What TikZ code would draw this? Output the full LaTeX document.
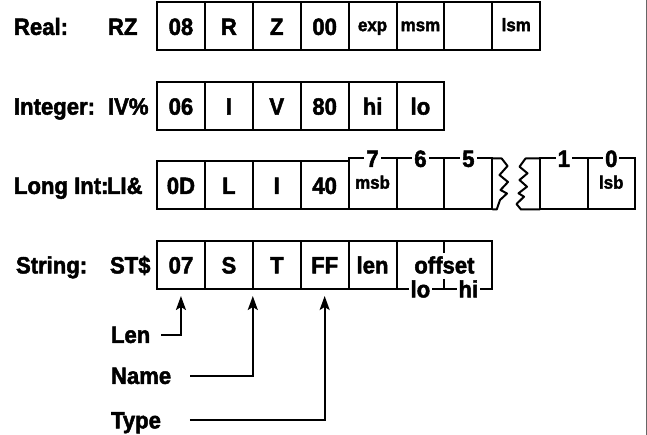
\documentclass[tikz,border=0pt]{standalone}
\usepackage{fontspec}
\setmainfont{Liberation Sans}[BoldFeatures={FakeBold=2,FakeStretch=0.94}]
\usetikzlibrary{arrows.meta}
\newcommand\bigf{\fontsize{23.5}{23.5}\selectfont\bfseries}
\newcommand\smf{\fontsize{18}{18}\selectfont\bfseries}
\begin{document}
\begin{tikzpicture}[x=1pt,y=-1pt,line width=2pt,
  box/.style={draw, inner sep=0pt, outer sep=0pt, minimum width=47.9pt, minimum height=48pt, font=\bigf, text height=16.8pt, text depth=0pt},
  sbox/.style={box, font=\smf, text height=9.3pt},
  lbl/.style={inner sep=0pt, anchor=west, font=\bigf, text height=16.8pt, text depth=0pt},
  tag/.style={fill=white, inner xsep=2pt, inner ysep=0pt, font=\bigf, text height=16.8pt, text depth=0pt},
  arr/.style={-{Stealth[length=14pt,width=10pt,inset=3pt]}, line width=2pt}]
\useasboundingbox (0,0) rectangle (647,435);
% Real
\node[lbl] (realL) at (13,26.5) {Real:};
\node[lbl] (realN) at (107,26.5) {RZ};
\node[box] (r1) at (180.95,26.5) {08};
\node[box] (r2) at (228.85,26.5) {R};
\node[box] (r3) at (276.75,26.5) {Z};
\node[box] (r4) at (324.65,26.5) {00};
\node[sbox] (r5) at (372.55,26.5) {exp};
\node[sbox] (r6) at (420.45,26.5) {msm};
\node[box] (r7) at (468.35,26.5) {};
\node[sbox] (r8) at (516.25,26.5) {lsm};
% Integer
\node[lbl] (intL) at (13,106.25) {Integer:};
\node[lbl] (intN) at (107,106.25) {IV\%};
\node[box] (i1) at (180.95,106.25) {06};
\node[box] (i2) at (228.85,106.25) {I};
\node[box] (i3) at (276.75,106.25) {V};
\node[box] (i4) at (324.65,106.25) {80};
\node[box] (i5) at (372.55,106.25) {hi};
\node[box] (i6) at (420.45,106.25) {lo};
% Long Int
\node[lbl] (longL) at (13,185.5) {Long Int:};
\node[lbl] (longN) at (106,185.5) {LI\&};
\node[box] (l1) at (180.95,185.5) {0D};
\node[box] (l2) at (228.85,185.5) {L};
\node[box] (l3) at (276.75,185.5) {I};
\node[box] (l4) at (324.65,185.5) {40};
\node[sbox, minimum height=51pt] (l5) at (372.55,184) {msb};
\node[box, minimum height=51pt] (l6) at (420.45,184) {};
\node[box, minimum height=51pt] (l7) at (468.35,184) {};
\node[box, minimum height=51pt, minimum width=47.5pt] (l8) at (563.75,184) {};
\node[sbox, minimum height=51pt, minimum width=47.5pt] (l9) at (611.25,184) {lsb};
\node[tag] (d7) at (l5.north) {7};
\node[tag] (d6) at (l6.north) {6};
\node[tag] (d5) at (l7.north) {5};
\node[tag] (d1) at (l8.north) {1};
\node[tag] (d0) at (l9.north) {0};
\draw[line join=round] (l7.north east) -- (501.7,158.5) -- (507.5,166) -- (499.5,175) -- (508,182) -- (500.5,190) -- (507,193.5) -- (500,200) -- (496.7,209.5) -- (l7.south east);
\draw[line join=round] (l8.north west) -- (525.5,158.5) -- (519.5,166.7) -- (527.5,173.3) -- (519.5,180) -- (527,186.7) -- (518.5,193.3) -- (524,196.7) -- (516.5,204) -- (521,209.5) -- (l8.south west);
% String
\node[lbl] (strL) at (15,265) {String:};
\node[lbl] (strN) at (109,265) {ST\$};
\node[box] (s1) at (180.95,265) {07};
\node[box] (s2) at (228.85,265) {S};
\node[box] (s3) at (276.75,265) {T};
\node[box] (s4) at (324.65,265) {FF};
\node[box] (s5) at (372.55,265) {len};
\node[box, minimum width=95.8pt] (s6) at (444.4,265) {offset};
\draw (s6.north) -- ++(0,12);
\draw (s6.south) -- ++(0,-10);
\node[tag] (lo) at ([xshift=-24pt]s6.south) {lo};
\node[tag] (hi) at ([xshift=24pt]s6.south) {hi};
% pointers
\node[lbl] (lenL) at (110,334.5) {Len};
\node[lbl] (nameL) at (110,375.5) {Name};
\node[lbl] (typeL) at (110,420) {Type};
\draw[arr] ([xshift=10pt]lenL.east) -| ([yshift=-7pt]s1.south);
\draw[arr] ([xshift=18pt]nameL.east) -| ([yshift=-7pt]s2.south east);
\draw[arr] ([xshift=28pt]typeL.east) -| ([yshift=-7pt]s4.south);
% scan edge
\draw[line width=0.8pt, black!60] (646,0) -- (646,435);
\end{tikzpicture}
\end{document}
